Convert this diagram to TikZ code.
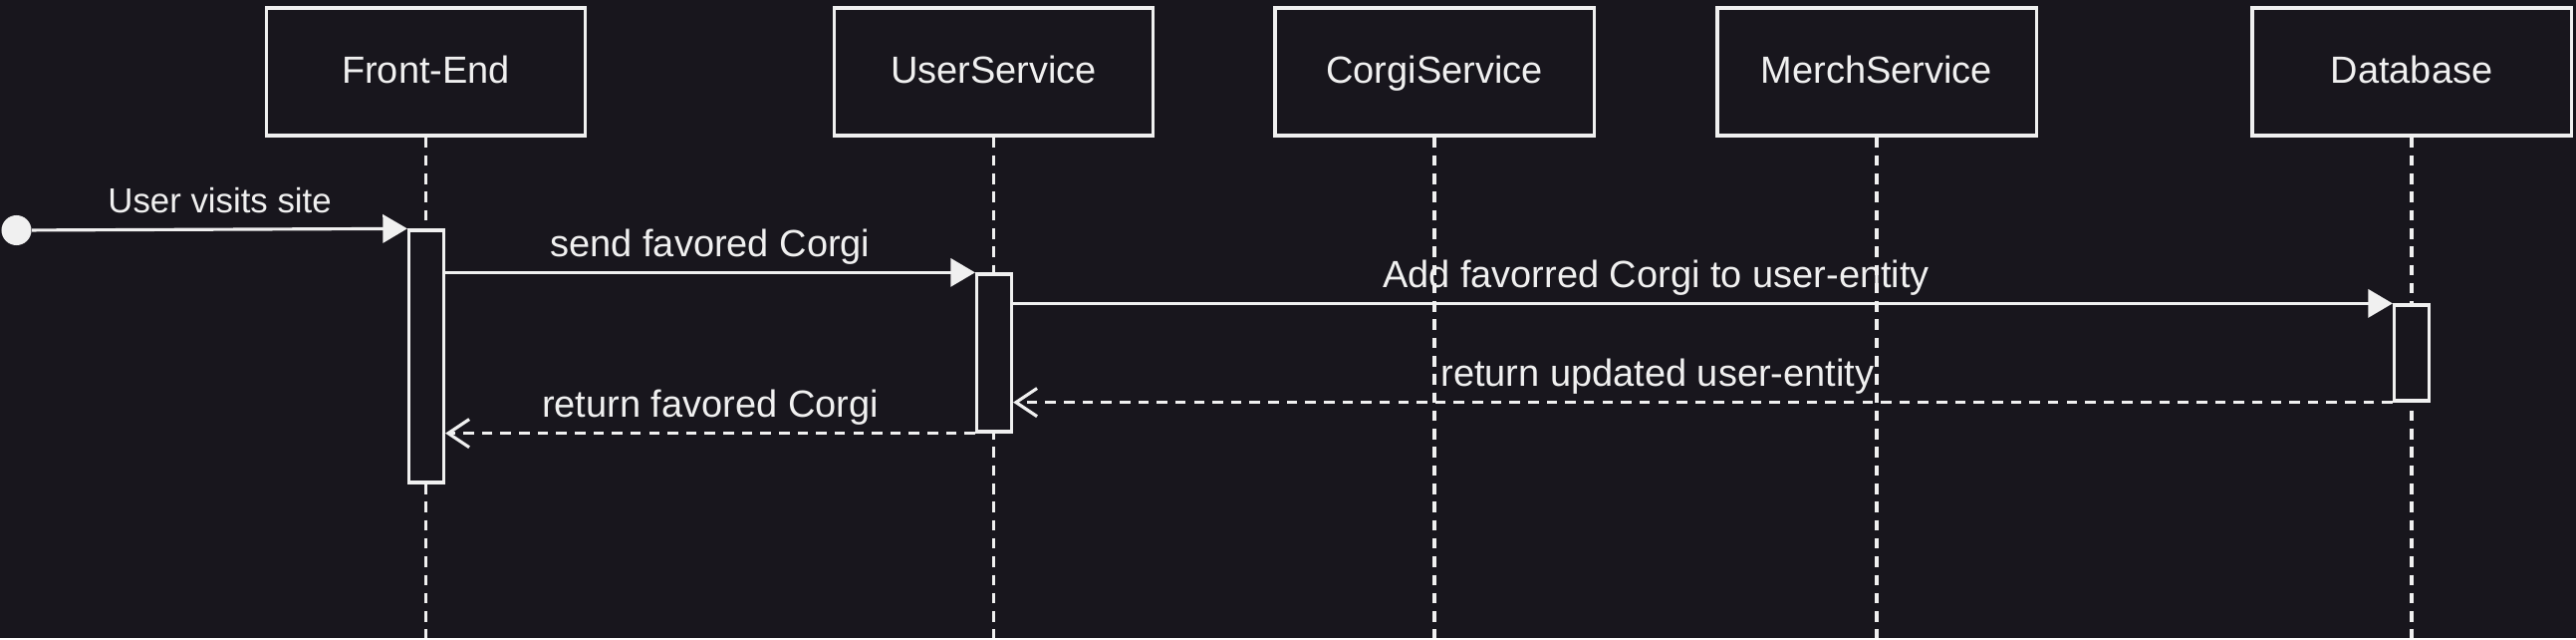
\documentclass[tikz,border=0pt]{standalone}
\usepackage{fontspec}
\setmainfont{Liberation Sans}
\usetikzlibrary{arrows.meta}
\definecolor{fondo}{RGB}{24,22,29}
\definecolor{trazo}{RGB}{240,240,240}

\begin{document}
\begin{tikzpicture}[x=0.01cm, y=0.01cm,
  actor/.style={draw=trazo, fill=fondo, line width=0.9pt, minimum width=3.2cm,
    minimum height=1.28cm, text=trazo, text height=0.85em, text depth=0.2em,
    font=\fontsize{10.8}{13}\selectfont},
  activ/.style={draw=trazo, fill=fondo, line width=0.9pt, minimum width=0.35cm, inner sep=0pt},
  lifeline/.style={draw=trazo, line width=0.9pt, dash pattern=on 3pt off 2.2pt},
  msg/.style={draw=trazo, line width=0.9pt, -{Triangle[length=7pt,width=8pt]}},
  ret/.style={draw=trazo, line width=0.9pt, dash pattern=on 3pt off 2.3pt,
    -{Straight Barb[length=6pt,width=8pt]}},
  lbl/.style={text=trazo, font=\fontsize{10.8}{13}\selectfont, inner sep=1pt,
    above=1pt, text depth=0.22em}]

% fondo
\fill[fondo] (0,0) rectangle (2586,-640);
\coordinate (base) at (0,-640);

% participantes
\node[actor] (fe) at (427.5,-72) {Front-End};
\node[actor] (us) at (997.5,-72) {UserService};
\node[actor] (cs) at (1440,-72) {CorgiService};
\node[actor] (ms) at (1884,-72) {MerchService};
\node[actor] (db) at (2421,-72) {Database};

% lineas de vida
\draw[lifeline] (fe.south) -- (fe.south |- base);
\draw[lifeline] (us.south) -- (us.south |- base);
\draw[lifeline] (cs.south) -- (cs.south |- base);
\draw[lifeline] (ms.south) -- (ms.south |- base);
\draw[lifeline] (db.south) -- (db.south |- base);

% activaciones
\node[activ, minimum height=2.53cm] (feAct) at (428,-357.5) {};
\node[activ, minimum height=1.58cm] (usAct) at (998,-354) {};
\node[activ, minimum height=0.96cm] (dbAct) at (2421,-354) {};

% mensajes
\node[circle, fill=trazo, minimum size=0.3cm, inner sep=0pt] (inicio) at (16.5,-231) {};
\draw[msg] (inicio) -- node[lbl, font=\fontsize{9.9}{12}\selectfont] {User visits site} (feAct.north west);
\draw[msg] (feAct.east |- usAct.north west) -- node[lbl] {send favored Corgi} (usAct.north west);
\draw[msg] (usAct.east |- dbAct.north west) -- node[lbl, pos=0.466] {Add favorred Corgi to user-entity} (dbAct.north west);
\draw[ret] (dbAct.south west) -- node[lbl, pos=0.533] {return updated user-entity} (usAct.east |- dbAct.south west);
\draw[ret] (usAct.south west) -- node[lbl] {return favored Corgi} (feAct.east |- usAct.south west);
\end{tikzpicture}
\end{document}
